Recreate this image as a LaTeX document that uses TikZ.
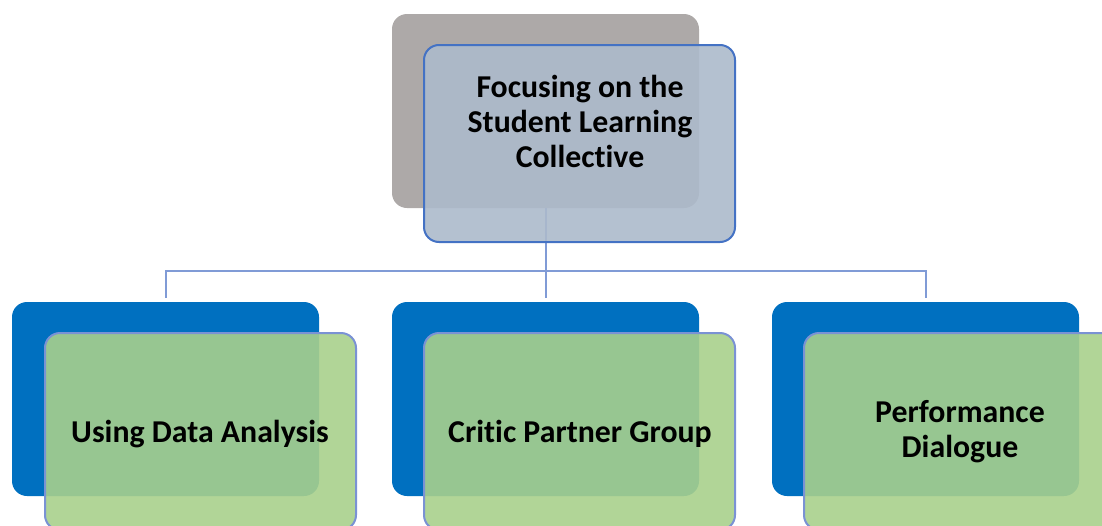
\documentclass[tikz,border=0pt]{standalone}
\usepackage{fontspec}
\setmainfont{Carlito}[Ligatures={NoCommon}]
\definecolor{backgray}{RGB}{173,169,168}
\definecolor{frontgray}{RGB}{172,186,203}
\definecolor{edgeblue}{RGB}{68,114,196}
\definecolor{darkblue}{RGB}{0,112,192}
\definecolor{leafgreen}{RGB}{168,208,140}
\definecolor{leafedge}{RGB}{122,146,212}
\definecolor{linkblue}{RGB}{128,155,214}
\tikzset{
  box/.style={rectangle, rounded corners=15pt, minimum width=307pt, minimum height=194pt, inner sep=0pt},
  backtop/.style={box, fill=backgray},
  fronttop/.style={box, minimum width=311pt, minimum height=197pt, fill=frontgray, fill opacity=0.9, draw=edgeblue, line width=2pt},
  backleaf/.style={box, fill=darkblue},
  frontleaf/.style={box, minimum width=311pt, minimum height=197pt, fill=leafgreen, fill opacity=0.9, draw=leafedge, line width=2pt},
  label/.style={font=\fontsize{31.8}{35}\selectfont\bfseries, align=center, text=black},
  conn/.style={draw=linkblue, line width=2pt}
}
\begin{document}
\begin{tikzpicture}[x=1pt,y=-1pt]
\useasboundingbox (0,0) rectangle (1102,525);
\clip (0,0) rectangle (1102,525);
% top
\node[backtop] (topback) at (545.5,111) {};
\coordinate (j) at (545.5,271);
\draw[conn] (topback.south) -- (j);
\node[fronttop] (topfront) at (579.5,143.5) {};
\node[label] (toptext) at (580,121) {Focusing on the\\Student Learning\\Collective};
% leaves back
\node[backleaf] (b1) at (165.5,399) {};
\node[backleaf] (b2) at (545.5,399) {};
\node[backleaf] (b3) at (925.5,399) {};
\draw[conn, shorten >=4pt] (j) -| (b1.north);
\draw[conn, shorten >=4pt] (j) -- (b2.north);
\draw[conn, shorten >=4pt] (j) -| (b3.north);
% leaves front
\node[frontleaf] (f1) at (200.5,431.5) {};
\node[frontleaf] (f2) at (579.5,431.5) {};
\node[frontleaf] (f3) at (959.5,431.5) {};
\node[label] (t1) at (200,434) {Using Data Analysis};
\node[label] (t2) at (580,434) {Critic Partner Group};
\node[label] (t3) at (960,432) {Performance\\Dialogue};
\end{tikzpicture}
\end{document}
